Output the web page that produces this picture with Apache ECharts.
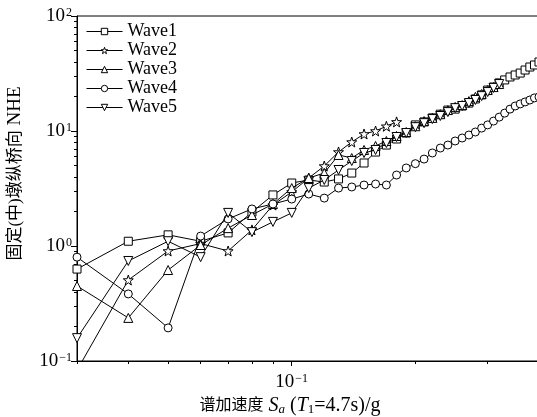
<!DOCTYPE html>
<html>
<head>
<meta charset="utf-8">
<script src="https://cdn.jsdelivr.net/npm/echarts@6/dist/echarts.min.js"></script>
<style>
html,body{margin:0;padding:0;background:#fff;}
#chart{width:537px;height:417px;}
</style>
</head>
<body>
<div id="chart"></div>
<script>
// Spectral acceleration Sa(T1=4.7s)/g grid
var sa = [0.03,0.04,0.05,0.06,0.07,0.08,0.09,0.10,0.11,0.12,0.13,0.14,0.15,0.16,0.17,0.18,0.19,0.20,
          0.21,0.22,0.23,0.24,0.25,0.26,0.27,0.28,0.29,0.30,0.31,0.32,0.33,0.34,0.35,0.36,0.37,0.38,0.39,0.40];
var wave1 = [0.63,1.10,1.25,1.10,1.30,1.97,2.78,3.53,3.75,3.60,3.83,4.31,5.27,6.56,7.55,8.52,9.6,11.3,
             12.0,13.0,14.0,15.2,15.5,16.5,17.5,19.0,20.6,22.7,24.1,26.2,27.8,29.5,30.7,31.9,33.9,36.0,37.5,39.8];
var wave2 = [0.083,0.506,0.905,1.05,0.905,1.38,2.27,2.95,3.90,4.96,6.57,8.02,9.42,10.0,11.0,12.0];
var wave3 = [0.449,0.237,0.618,1.02,1.43,1.86,2.32,3.19,3.90,4.31,6.19,5.82,6.84,7.41,8.19,9.05,9.8,11.0,
             12.2,13.0,14.0,15.2,16.2,16.8,18.2,19.8,21.0,22.7,24.1,25.6];
var wave4 = [0.80,0.383,0.194,1.22,1.72,2.10,2.32,2.56,2.83,2.61,3.19,3.26,3.39,3.46,3.39,4.14,4.77,5.20,
             5.70,6.44,7.11,7.55,8.19,8.69,9.23,9.8,10.6,11.3,12.2,13.2,14.3,15.5,16.5,17.2,17.9,18.6,19.4,19.8];
var wave5 = [0.158,0.741,1.10,0.80,1.94,1.32,1.62,1.94,3.19,3.75,4.58,5.48,6.44,6.84,7.86,8.87,9.6,10.8,
             11.7,12.7,13.5,14.6,15.8,16.5,17.5,18.6,20.1,21.8,23.7,25.6];
var seriesNames = ['Wave1','Wave2','Wave3','Wave4','Wave5'];

// tick positions / labels
var xMinorTicks = [0.03,0.04,0.05,0.06,0.07,0.08,0.09,0.2,0.3,0.4];
var xMajorTicks = [0.1];
var xTickLabels = {'-1':'10{s|\u22121}'};
var yDecades = [0.1,1,10,100];
var yMinorMultipliers = [2,3,4,5,6,7,8,9];
var yTickLabels = {'-1':'10{s|\u22121}','0':'10{s|0}','1':'10{s|1}','2':'10{s|2}'};
var xName = '{c|谱加速度} {i|S}{si|a} ({i|T}{sb|1}=4.7s)/g';
var yName = '{c|固定(中)墩纵桥向} NHE';

var SERIF = '"Liberation Serif", "Noto Sans CJK SC", serif';
var STAR = 'path://M0,-10 L2.35,-3.24 L9.51,-3.09 L3.8,1.24 L5.88,8.09 L0,4 L-5.88,8.09 L-3.8,1.24 L-9.51,-3.09 L-2.35,-3.24 Z';
var symbols = ['rect', STAR, 'triangle', 'circle', 'triangle'];
var symbolRot = [0,0,0,0,180];
var symbolSizes = [8,10,9,8,9];
var waves = [wave1,wave2,wave3,wave4,wave5];

var yMinorTicks = [];
for (var d = 0; d < yDecades.length - 1; d++) {
  for (var k = 0; k < yMinorMultipliers.length; k++) {
    yMinorTicks.push(Math.log10(yDecades[d] * yMinorMultipliers[k]));
  }
}
var xMin = sa[0], xMax = sa[sa.length-1];
var lxMin = Math.log10(xMin), lxMax = Math.log10(xMax);

var labelRich = {
  s: {fontSize: 12, fontFamily: SERIF, color: '#000', verticalAlign: 'top', lineHeight: 10, padding:[0,0,0,1]}
};

var series = waves.map(function (w, i) {
  return {
    name: seriesNames[i],
    type: 'line',
    xAxisIndex: 0,
    yAxisIndex: 0,
    data: w.map(function (v, j) { return [sa[j], v]; }),
    symbol: symbols[i],
    symbolRotate: symbolRot[i],
    symbolSize: symbolSizes[i],
    showAllSymbol: true,
    lineStyle: {color: '#000', width: 1},
    itemStyle: {color: '#fff', borderColor: '#000', borderWidth: 1},
    emphasis: {disabled: true},
    clip: true,
    z: 2 + i
  };
});

var chart = echarts.init(document.getElementById('chart'), null, {renderer: 'canvas'});
chart.setOption({
  animation: false,
  backgroundColor: '#fff',
  grid: {left: 77, right: -2, top: 16, bottom: 56, show: true, borderColor: '#000', borderWidth: 1,
         backgroundColor: 'transparent', containLabel: false, outerBoundsMode: 'none'},
  legend: {
    left: 86, top: 22, orient: 'vertical', padding: 0,
    itemWidth: 36, itemHeight: 8, itemGap: 0,
    itemStyle: {color: '#fff', borderColor: '#000', borderWidth: 1},
    lineStyle: {color: '#000', width: 1},
    textStyle: {fontFamily: SERIF, fontSize: 18, color: '#000', lineHeight: 19},
    data: seriesNames
  },
  xAxis: [
    {
      type: 'log', logBase: 10, min: xMin, max: xMax, position: 'bottom',
      axisLine: {show: true, onZero: false, lineStyle: {color: '#000', width: 1}},
      axisTick: {show: false}, axisLabel: {show: false}, splitLine: {show: false},
      name: xName, nameLocation: 'middle', nameGap: 35,
      nameTextStyle: {fontFamily: SERIF, fontSize: 20, color: '#000', padding: [0, 36, 0, 0],
        rich: {
          c: {fontFamily: SERIF, fontSize: 16, color: '#000'},
          i: {fontFamily: SERIF, fontSize: 20, fontStyle: 'italic', color: '#000'},
          si: {fontFamily: SERIF, fontSize: 13, fontStyle: 'italic', color: '#000', verticalAlign: 'bottom', padding: [7,0,0,0]},
          sb: {fontFamily: SERIF, fontSize: 13, color: '#000', verticalAlign: 'bottom', padding: [7,0,0,0]}
        }}
    },
    {
      type: 'value', min: lxMin, max: lxMax, position: 'bottom',
      axisLine: {show: false, onZero: false},
      axisTick: {show: true, length: 3, lineStyle: {color: '#000'}, customValues: xMinorTicks.map(Math.log10)},
      axisLabel: {show: false}, splitLine: {show: false}
    },
    {
      type: 'value', min: lxMin, max: lxMax, position: 'bottom',
      axisLine: {show: false, onZero: false},
      axisTick: {show: true, length: 5, lineStyle: {color: '#000'}, customValues: xMajorTicks.map(Math.log10)},
      axisLabel: {show: true, margin: 12, customValues: xMajorTicks.map(Math.log10),
        fontFamily: SERIF, fontSize: 19, color: '#000', rich: labelRich,
        formatter: function (v) { return xTickLabels[String(Math.round(v))]; }},
      splitLine: {show: false}
    }
  ],
  yAxis: [
    {
      type: 'log', logBase: 10, min: yDecades[0], max: yDecades[yDecades.length-1], position: 'left',
      axisLine: {show: true, onZero: false, lineStyle: {color: '#000', width: 1}},
      axisTick: {show: true, length: 6, lineStyle: {color: '#000'}},
      axisLabel: {show: true, margin: 5, fontFamily: SERIF, fontSize: 19, color: '#000', rich: labelRich,
        formatter: function (v) { return yTickLabels[String(Math.round(Math.log10(v)))]; }},
      splitLine: {show: false},
      name: yName, nameLocation: 'middle', nameGap: 52,
      nameTextStyle: {fontFamily: SERIF, fontSize: 19, color: '#000', padding: [0, 0, 0, 30],
        rich: {c: {fontFamily: SERIF, fontSize: 17, color: '#000'}}}
    },
    {
      type: 'value', min: Math.log10(yDecades[0]), max: Math.log10(yDecades[yDecades.length-1]), position: 'left',
      axisLine: {show: false, onZero: false},
      axisTick: {show: true, length: 3, lineStyle: {color: '#000'}, customValues: yMinorTicks},
      axisLabel: {show: false}, splitLine: {show: false}
    }
  ],
  series: series
});
</script>
</body>
</html>
